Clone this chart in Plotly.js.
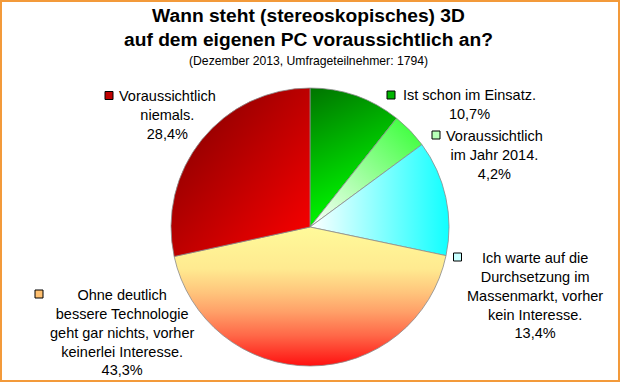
<!DOCTYPE html>
<html>
<head>
<meta charset="utf-8">
<script src="https://cdn.plot.ly/plotly-3.0.1.min.js"></script>
<style>
  html, body { margin: 0; padding: 0; background: #fff; }
  #wrap { position: relative; width: 620px; height: 382px; }
  #chart { width: 620px; height: 382px; }
  #frame { position: absolute; left: 0; top: 0; width: 620px; height: 382px; box-sizing: border-box;
           border: 2px solid #f39a3a; pointer-events: none; }
</style>
</head>
<body>
<div id="wrap"><div id="chart"></div><div id="frame"></div></div>
<script>
// ---- data ----
const categories = [
  "Ist schon im Einsatz.",
  "Voraussichtlich im Jahr 2014.",
  "Ich warte auf die Durchsetzung im Massenmarkt, vorher kein Interesse.",
  "Ohne deutlich bessere Technologie geht gar nichts, vorher keinerlei Interesse.",
  "Voraussichtlich niemals."
];
const labelLines = [
  "Ist schon im Einsatz.",
  "Voraussichtlich<br>im Jahr 2014.",
  "Ich warte auf die<br>Durchsetzung im<br>Massenmarkt, vorher<br>kein Interesse.",
  "Ohne deutlich<br>bessere Technologie<br>geht gar nichts, vorher<br>keinerlei Interesse.",
  "Voraussichtlich<br>niemals."
];
const values = [10.7, 4.2, 13.4, 43.3, 28.4];

// ---- styling ----
const W = 620, H = 382;
const px = x => x / W;
const py = y => 1 - y / H;
const FONT = '"Liberation Sans", Arial, sans-serif';
const solidColors = ['#00b000', '#a0ffa0', '#a0ffff', '#ffa868', '#c40000'];
const keyColors = ['#00b400', '#b8ffb8', '#c8ffff', '#ffc070', '#c00000'];
// gradient specs per slice: [x1,y1,x2,y2, stops]
const grads = [
  [0, 0, 0.3, 1, [[0, '#007400'], [1, '#00ff00']]],
  [1, 0, 0, 1, [[0, '#30ff30'], [1, '#ffffff']]],
  [0, 0, 1, 0, [[0, '#ffffff'], [1, '#10ffff']]],
  [0, 0, 0, 1, [[0, '#fffa9a'], [0.3, '#ffea90'], [0.47, '#ffc57c'], [0.61, '#ffa068'], [0.78, '#ff6848'], [1, '#ff1010']]],
  [0, 0, 1, 1, [[0, '#7a0000'], [1, '#ff0000']]]
];
const labelPos = [[469, 104], [494, 155], [535, 295], [122, 332], [167, 115]];
const keyPos = [[391, 95], [436, 135], [457.5, 257], [39, 294], [109, 95.5]];

const cx = 310, cy = 227, r = 139;

const data = [{
  type: 'pie',
  values: values,
  labels: categories,
  sort: false,
  direction: 'clockwise',
  rotation: 0,
  textinfo: 'none',
  hoverinfo: 'none',
  showlegend: false,
  marker: { colors: solidColors, line: { color: '#8a8a8a', width: 0.8 } },
  domain: { x: [px(cx - r), px(cx + r)], y: [py(cy + r), py(cy - r)] }
}];

const annotations = values.map((v, i) => ({
  xref: 'paper', yref: 'paper',
  x: px(labelPos[i][0]), y: py(labelPos[i][1]),
  xanchor: 'center', yanchor: 'middle', align: 'center',
  showarrow: false,
  text: labelLines[i] + '<br>' + v.toFixed(1).replace('.', ',') + '%',
  font: { family: FONT, size: 14.5, color: '#000' }
}));
annotations.push({
  xref: 'paper', yref: 'paper', x: px(308.5), y: py(61.5), xanchor: 'center', yanchor: 'middle',
  showarrow: false, text: '(Dezember 2013, Umfrageteilnehmer: 1794)',
  font: { family: FONT, size: 12.2, color: '#000' }
});

const shapes = keyPos.map((k, i) => ({
  type: 'rect', xref: 'paper', yref: 'paper',
  x0: px(k[0] - 4), x1: px(k[0] + 4), y0: py(k[1] + 4), y1: py(k[1] - 4),
  line: { color: '#000', width: 1 }, fillcolor: keyColors[i]
}));

const layout = {
  width: W, height: H,
  margin: { l: 0, r: 0, t: 0, b: 0 },
  paper_bgcolor: '#fff', plot_bgcolor: '#fff',
  title: {
    text: '<b>Wann steht (stereoskopisches) 3D<br>auf dem eigenen PC voraussichtlich an?</b>',
    font: { family: FONT, size: 19.2, color: '#000' },
    x: px(308.5), xanchor: 'center', xref: 'paper',
    y: py(21.5), yanchor: 'middle', yref: 'container'
  },
  annotations: annotations,
  shapes: shapes
};

Plotly.newPlot('chart', data, layout, { staticPlot: true, displayModeBar: false }).then(gd => {
  const NS = 'http://www.w3.org/2000/svg';
  const svg = gd.querySelector('svg.main-svg');
  let defs = svg.querySelector('defs');
  if (!defs) { defs = document.createElementNS(NS, 'defs'); svg.insertBefore(defs, svg.firstChild); }
  grads.forEach((g, i) => {
    const lg = document.createElementNS(NS, 'linearGradient');
    lg.setAttribute('id', 'sliceGrad' + i);
    lg.setAttribute('x1', g[0]); lg.setAttribute('y1', g[1]);
    lg.setAttribute('x2', g[2]); lg.setAttribute('y2', g[3]);
    g[4].forEach(s => {
      const st = document.createElementNS(NS, 'stop');
      st.setAttribute('offset', s[0]);
      st.setAttribute('stop-color', s[1]);
      lg.appendChild(st);
    });
    defs.appendChild(lg);
  });
  gd.querySelectorAll('g.slice path.surface').forEach((p, i) => {
    if (i < grads.length) p.style.fill = 'url(#sliceGrad' + i + ')';
  });
});
</script>
</body>
</html>
